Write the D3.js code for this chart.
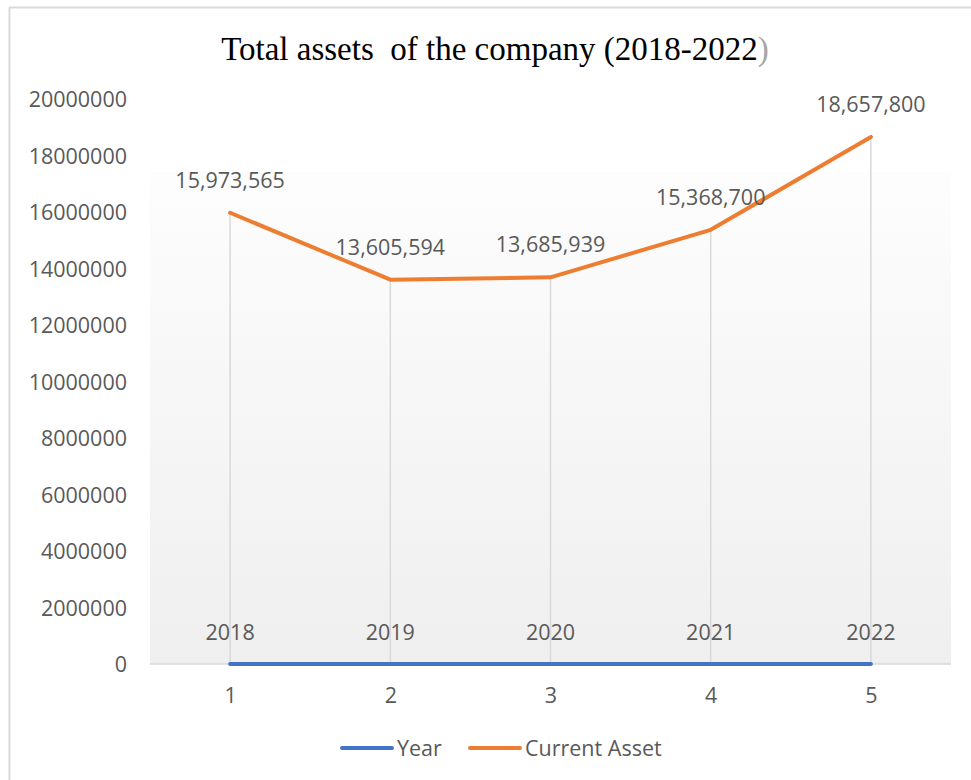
<!DOCTYPE html>
<html>
<head>
<meta charset="utf-8">
<script src="https://cdn.jsdelivr.net/npm/d3@7"></script>
<style>
  html, body { margin: 0; padding: 0; background: #fff; }
  svg { display: block; }
</style>
</head>
<body>
<svg id="chart" width="971" height="780"></svg>
<script>
// Chart data
const categories = [1, 2, 3, 4, 5];
const yearValues = [2018, 2019, 2020, 2021, 2022];
const currentAssetValues = [15973565, 13605594, 13685939, 15368700, 18657800];
const yTicks = [0, 2000000, 4000000, 6000000, 8000000, 10000000, 12000000, 14000000, 16000000, 18000000, 20000000];
const seriesNames = ["Year", "Current Asset"];
const seriesColors = ["#4472C4", "#ED7D31"];

const svg = d3.select("#chart");
const W = 971, H = 780;
const plot = { left: 150, right: 951, top: 99, bottom: 664 };
const labelFont = "'Open Sans', 'Noto Sans', sans-serif";
const textColor = "#595959";

// Frame edges
svg.append("line").attr("x1", 9).attr("x2", W).attr("y1", 7.5).attr("y2", 7.5)
  .attr("stroke", "#d9d9d9").attr("stroke-width", 2);
svg.append("line").attr("x1", 9.5).attr("x2", 9.5).attr("y1", 7).attr("y2", H)
  .attr("stroke", "#d9d9d9").attr("stroke-width", 2);

// Scales
const x = d3.scalePoint().domain(categories).range([plot.left, plot.right]).padding(0.5);
const y = d3.scaleLinear().domain([0, 20000000]).range([plot.bottom, plot.top]);

// Plot area gradient fill
const defs = svg.append("defs");
const grad = defs.append("linearGradient").attr("id", "plotFill")
  .attr("x1", 0).attr("y1", 0).attr("x2", 0).attr("y2", 1);
grad.append("stop").attr("offset", "0%").attr("stop-color", "#fdfdfd");
grad.append("stop").attr("offset", "100%").attr("stop-color", "#efefef");
svg.append("rect")
  .attr("x", plot.left).attr("y", 172)
  .attr("width", plot.right - plot.left).attr("height", plot.bottom - 172)
  .attr("fill", "url(#plotFill)");

// Title
const title = svg.append("text")
  .attr("x", 495).attr("y", 60)
  .attr("text-anchor", "middle")
  .attr("font-family", "'Liberation Serif', 'Times New Roman', serif")
  .attr("font-size", 33)
  .attr("fill", "#000");
title.append("tspan").text("Total assets\u00a0 of the company (2018-2022");
title.append("tspan").attr("fill", "#a6a6a6").text(")");

// Y axis labels
const yAxis = d3.axisLeft(y).tickValues(yTicks).tickSize(0).tickPadding(0).tickFormat(d3.format("d"));
const yg = svg.append("g").attr("transform", `translate(127,0)`).call(yAxis);
yg.select(".domain").remove();
yg.selectAll("text")
  .attr("font-family", labelFont).attr("font-size", 21.5).attr("fill", textColor)
  .attr("dy", "0.35em");

// Drop lines from the highest series to the axis
const maxByCat = categories.map((c, i) => Math.max(yearValues[i], currentAssetValues[i]));
svg.append("g").selectAll("line").data(categories).join("line")
  .attr("x1", d => x(d)).attr("x2", d => x(d))
  .attr("y1", (d, i) => y(maxByCat[i])).attr("y2", y(0))
  .attr("stroke", "#d9d9d9").attr("stroke-width", 1.5);

// X axis
const xAxis = d3.axisBottom(x).tickSize(0).tickPadding(0);
const xg = svg.append("g").attr("transform", `translate(0,${plot.bottom})`).call(xAxis);
xg.select(".domain").attr("stroke", "#d9d9d9").attr("stroke-width", 1.5)
  .attr("d", `M${plot.left},0H${plot.right}`);
xg.selectAll("text")
  .attr("font-family", labelFont).attr("font-size", 21.5).attr("fill", textColor)
  .attr("y", 39).attr("dy", 0);

// Lines
const seriesData = [yearValues, currentAssetValues];
const line = d3.line().x((d, i) => x(categories[i])).y(d => y(d));
seriesData.forEach((vals, s) => {
  svg.append("path").datum(vals)
    .attr("d", line)
    .attr("fill", "none")
    .attr("stroke", seriesColors[s])
    .attr("stroke-width", 4)
    .attr("stroke-linecap", "round")
    .attr("stroke-linejoin", "round");
});

// Data labels
const fmtComma = d3.format(",");
svg.append("g").selectAll("text").data(yearValues).join("text")
  .attr("x", (d, i) => x(categories[i]))
  .attr("y", d => y(d) - 24)
  .attr("text-anchor", "middle")
  .attr("font-family", labelFont).attr("font-size", 21.5).attr("fill", textColor)
  .text(d => d);
svg.append("g").selectAll("text").data(currentAssetValues).join("text")
  .attr("x", (d, i) => x(categories[i]))
  .attr("y", d => y(d) - 25)
  .attr("text-anchor", "middle")
  .attr("font-family", labelFont).attr("font-size", 21.5).attr("fill", textColor)
  .text(d => fmtComma(d));

// Legend
const legendItems = [
  { name: seriesNames[0], color: seriesColors[0], x0: 340 },
  { name: seriesNames[1], color: seriesColors[1], x0: 468 }
];
const lg = svg.append("g");
legendItems.forEach(it => {
  lg.append("line").attr("x1", it.x0 + 2).attr("x2", it.x0 + 52)
    .attr("y1", 748).attr("y2", 748)
    .attr("stroke", it.color).attr("stroke-width", 4).attr("stroke-linecap", "round");
  lg.append("text").attr("x", it.x0 + 57).attr("y", 748).attr("dy", "0.35em")
    .attr("font-family", labelFont).attr("font-size", 21.5).attr("fill", textColor)
    .text(it.name);
});
</script>
</body>
</html>
